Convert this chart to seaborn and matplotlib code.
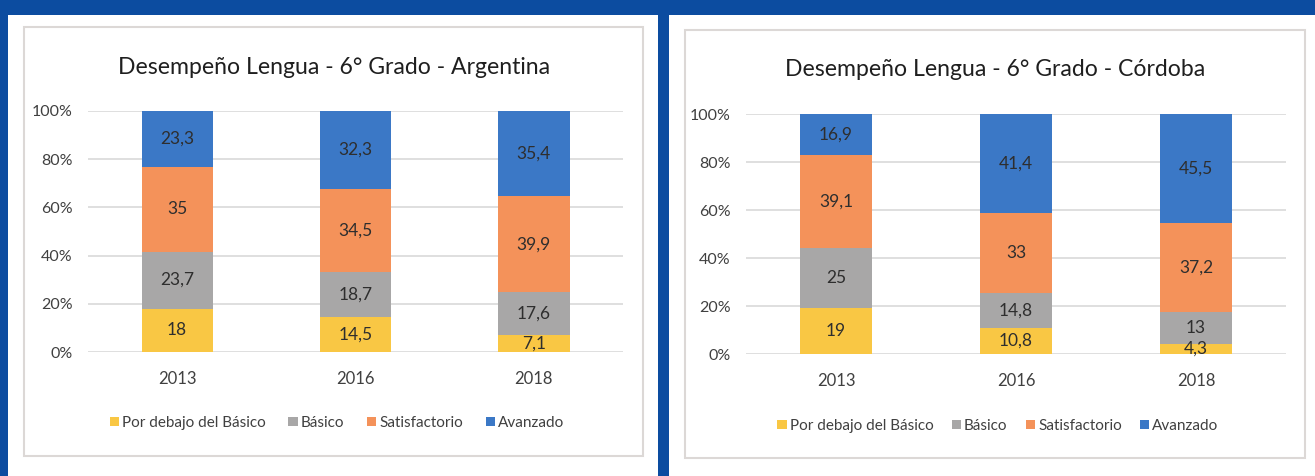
import numpy as np
import pandas as pd
import matplotlib
matplotlib.use('Agg')
import matplotlib.pyplot as plt
from matplotlib.patches import Rectangle
import seaborn as sns

anios = ['2013', '2016', '2018']
niveles = ['Por debajo del Básico', 'Básico', 'Satisfactorio', 'Avanzado']
colores = ['#F9C744', '#A8A7A7', '#F4925A', '#3B78C6']

# Argentina
arg_debajo = [18, 14.5, 7.1]
arg_basico = [23.7, 18.7, 17.6]
arg_satisf = [35, 34.5, 39.9]
arg_avanz = [23.3, 32.3, 35.4]

# Córdoba
cba_debajo = [19, 10.8, 4.3]
cba_basico = [25, 14.8, 13]
cba_satisf = [39.1, 33, 37.2]
cba_avanz = [16.9, 41.4, 45.5]

titulos = ['Desempeño Lengua - 6° Grado - Argentina',
           'Desempeño Lengua - 6° Grado - Córdoba']

sns.set_theme(style='white')
plt.rcParams['font.family'] = ['Lato', 'DejaVu Sans']

W, H = 1315, 476
fig = plt.figure(figsize=(W / 100, H / 100), dpi=100, facecolor='#0C4CA0')


def caja(x0, y0, x1, y1, **kw):
    # rectangulo en pixeles (origen arriba a la izquierda), detras de los ejes
    fig.patches.append(Rectangle((x0 / W, 1 - y1 / H), (x1 - x0) / W, (y1 - y0) / H,
                                 transform=fig.transFigure, figure=fig, zorder=-10, **kw))


caja(8, 15, 658, 477, facecolor='white', edgecolor='none')
caja(669, 15, 1316, 477, facecolor='white', edgecolor='none')
caja(24, 27, 643, 456, facecolor='none', edgecolor='#DCD8D6', lw=1.5)
caja(685, 30, 1305, 458, facecolor='none', edgecolor='#DCD8D6', lw=1.5)

paneles = [
    dict(datos=[arg_debajo, arg_basico, arg_satisf, arg_avanz],
         rect=[88 / W, 1 - 352 / H, 535 / W, 241 / H],
         titulo_xy=(334 / W, 1 - 67 / H), leyenda_xy=(337 / W, 1 - 423 / H),
         leyenda_sep=1.5),
    dict(datos=[cba_debajo, cba_basico, cba_satisf, cba_avanz],
         rect=[746 / W, 1 - 354 / H, 540 / W, 240 / H],
         titulo_xy=(995 / W, 1 - 70 / H), leyenda_xy=(998 / W, 1 - 426 / H),
         leyenda_sep=1.2),
]

for panel, titulo in zip(paneles, titulos):
    ax = fig.add_axes(panel['rect'])
    ax.set_facecolor('none')
    base = np.zeros(len(anios))
    for nivel, vals, col in zip(niveles, panel['datos'], colores):
        sns.barplot(x=anios, y=vals, bottom=base, color=col, width=0.4,
                    saturation=1, ax=ax, label=nivel, linewidth=0)
        ax.bar_label(ax.containers[-1],
                     labels=[f'{v:g}'.replace('.', ',') for v in vals],
                     label_type='center', fontsize=12.5, color='#2E2E2E')
        base = base + np.array(vals)

    ax.set_ylim(0, 100)
    ax.set_yticks(range(0, 101, 20))
    ax.set_yticklabels([f'{t}%' for t in range(0, 101, 20)])
    ax.yaxis.grid(True, color='#D9D9D9', lw=1.2)
    ax.set_axisbelow(True)
    ax.tick_params(axis='y', length=0, pad=11, labelsize=11.5, labelcolor='#404040')
    ax.tick_params(axis='x', length=0, pad=14, labelsize=12, labelcolor='#404040')
    ax.set_xlabel('')
    ax.set_ylabel('')
    sns.despine(ax=ax, left=True, bottom=True)
    if ax.get_legend():
        ax.get_legend().remove()

    fig.text(*panel['titulo_xy'], titulo, ha='center', va='center',
             fontsize=16.6, color='#1F1F1F')
    handles, labels = ax.get_legend_handles_labels()
    fig.legend(handles, labels, loc='center', bbox_to_anchor=panel['leyenda_xy'],
               ncol=4, frameon=False, fontsize=11, handlelength=0.6, handleheight=0.6,
               handletextpad=0.2, columnspacing=panel['leyenda_sep'], labelcolor='#404040')

fig.savefig('out.png', dpi=100, facecolor=fig.get_facecolor())
